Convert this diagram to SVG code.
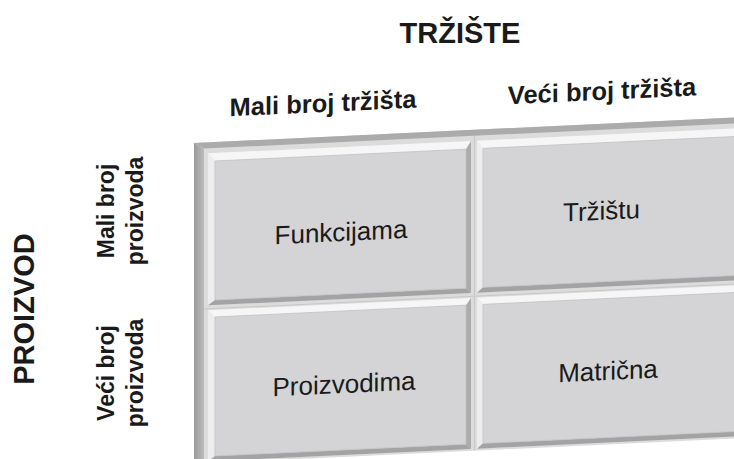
<svg xmlns="http://www.w3.org/2000/svg" width="734" height="459" viewBox="0 0 734 459">
<defs>
<linearGradient id="side" x1="0" y1="0" x2="1" y2="0">
<stop offset="0" stop-color="#9a9a9a"/>
<stop offset="1" stop-color="#bcbcbc"/>
</linearGradient>
<style>
text{font-family:"Liberation Sans",Arial,sans-serif;fill:#1a1a1a}
.title{font-size:29px;font-weight:bold}
.hdr{font-size:25.5px;font-weight:bold}
.side{font-size:23px;font-weight:bold}
.cell{font-size:26px}
.hl{fill:#f6f6f6}
.hl2{fill:#ededed}
.sh{fill:#ababab}
.sh2{fill:#a3a3a3}
.face{fill:#d4d4d6;stroke:#c2c2c2;stroke-width:0.8}
.pan{fill:#e3e3e3}
</style>
</defs>
<rect width="734" height="459" fill="#ffffff"/>
<text class="title" x="460" y="43" text-anchor="middle">TRŽIŠTE</text>
<text class="title" transform="translate(34,309) rotate(-90)" text-anchor="middle">PROIZVOD</text>
<g id="row-labels">
<text class="side" transform="translate(114,211) rotate(-90)" text-anchor="middle">Mali broj</text>
<text class="side" transform="translate(143,211) rotate(-90)" text-anchor="middle">proizvoda</text>
<text class="side" transform="translate(114,373) rotate(-90)" text-anchor="middle">Veći broj</text>
<text class="side" transform="translate(143,373) rotate(-90)" text-anchor="middle">proizvoda</text>
</g>
<g transform="translate(194,146) skewY(-2.7)">
<g id="col-labels">
<text class="hdr" x="129" y="-28" text-anchor="middle">Mali broj tržišta</text>
<text class="hdr" x="408" y="-27" text-anchor="middle">Veći broj tržišta</text>
</g>
<g id="frame">
<rect x="0" y="-3" width="560" height="321" fill="#dcdcdc"/>
<polygon points="0,-3 560,-3 560,3 10,3" fill="#ababab"/>
<polygon points="0,-3 10,3 10,330 0,330" fill="url(#side)"/>
<line x1="280.5" y1="3" x2="280.5" y2="318" stroke="#c8c8c8" stroke-width="1"/>
<line x1="10" y1="163.5" x2="560" y2="163.5" stroke="#c8c8c8" stroke-width="1"/>
</g>
<g id="cell-funkcijama">
<rect class="pan" x="14" y="8" width="263" height="152"/>
<polygon class="hl" points="14,8 277,8 272,16 21,16"/>
<polygon class="hl2" points="14,8 21,16 21,155 14,160"/>
<polygon class="sh" points="277,8 277,160 272,155 272,16"/>
<polygon class="sh2" points="14,160 277,160 272,155 21,155"/>
<rect class="face" x="21" y="16" width="251" height="139"/>
<text class="cell" x="147" y="102" text-anchor="middle">Funkcijama</text>
</g>
<g id="cell-trzistu">
<rect class="pan" x="283" y="8" width="290" height="152"/>
<polygon class="hl" points="283,8 573,8 573,16 289,16"/>
<polygon class="hl2" points="283,8 289,16 289,155 283,160"/>
<polygon class="sh2" points="283,160 573,160 573,155 289,155"/>
<rect class="face" x="289" y="16" width="290" height="139"/>
<text class="cell" x="407.5" y="93" text-anchor="middle">Tržištu</text>
</g>
<g id="cell-proizvodima">
<rect class="pan" x="14" y="165" width="263" height="151"/>
<polygon class="hl" points="14,165 277,165 272,172 21,172"/>
<polygon class="hl2" points="14,165 21,172 21,311 14,316"/>
<polygon class="sh" points="277,165 277,316 272,311 272,172"/>
<polygon class="sh2" points="14,316 277,316 272,311 21,311"/>
<rect class="face" x="21" y="172" width="251" height="139"/>
<text class="cell" x="150" y="254" text-anchor="middle">Proizvodima</text>
</g>
<g id="cell-matricna">
<rect class="pan" x="283" y="165" width="290" height="151"/>
<polygon class="hl" points="283,165 573,165 573,172 289,172"/>
<polygon class="hl2" points="283,165 289,172 289,311 283,316"/>
<polygon class="sh2" points="283,316 573,316 573,311 289,311"/>
<rect class="face" x="289" y="172" width="290" height="139"/>
<text class="cell" x="414" y="253.5" text-anchor="middle">Matrična</text>
</g>
</g>
</svg>
